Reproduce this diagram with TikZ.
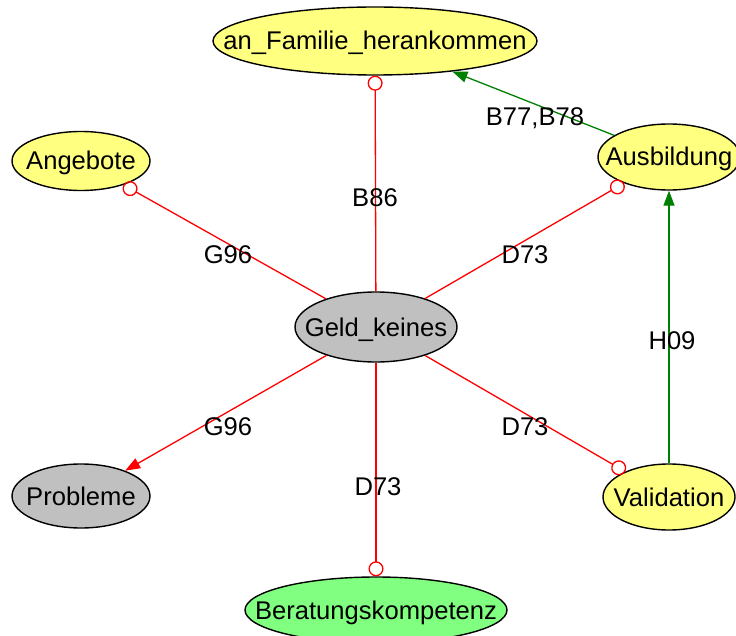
\documentclass[tikz,border=0pt]{standalone}
\usepackage{fontspec}
\setmainfont{Liberation Sans}
\usetikzlibrary{shapes.geometric,arrows.meta}
\definecolor{nodeyellow}{HTML}{FFFF80}
\definecolor{nodegray}{HTML}{C0C0C0}
\definecolor{nodegreen}{HTML}{80FF80}
\definecolor{edgegreen}{HTML}{008000}
\begin{document}
\begin{tikzpicture}[x=1pt,y=-1pt,
  font=\fontsize{25.6}{30}\selectfont,
  concept/.style={ellipse, draw=black, line width=1.4pt, inner sep=0pt,
    text height=18pt, text depth=0pt},
  elabel/.style={inner sep=0pt, text height=18pt, text depth=0pt},
  assoc/.style={draw=red, line width=1.3pt,
    -{Circle[open,length=15pt,width=15pt,line width=1.3pt]}},
  causal/.style={draw=red, line width=1.3pt, -{Triangle[length=15pt,width=11pt]}},
  support/.style={draw=edgegreen, line width=1.3pt,
    -{Triangle[length=15pt,width=11pt]}}
]
\clip (0,0) rectangle (736,636);
\fill[white] (0,0) rectangle (736,636);

% concepts
\node[concept, fill=nodeyellow, minimum width=324pt, minimum height=68pt]
  (fam) at (375,41) {\makebox[0pt]{an\_Familie\_herankommen}};
\node[concept, fill=nodeyellow, minimum width=138pt, minimum height=59pt]
  (ang) at (81,161) {\makebox[0pt]{Angebote}};
\node[concept, fill=nodeyellow, minimum width=142pt, minimum height=66pt]
  (aus) at (669,157) {\makebox[0pt]{Ausbildung}};
\node[concept, fill=nodegray, minimum width=162pt, minimum height=70pt]
  (geld) at (376,327) {\makebox[0pt]{Geld\_keines}};
\node[concept, fill=nodegray, minimum width=138pt, minimum height=64pt]
  (prob) at (81,496) {\makebox[0pt]{Probleme}};
\node[concept, fill=nodeyellow, minimum width=132pt, minimum height=66pt]
  (val) at (669,497) {\makebox[0pt]{Validation}};
\node[concept, fill=nodegreen, minimum width=262pt, minimum height=66pt]
  (ber) at (376,610) {\makebox[0pt]{Beratungskompetenz}};

% relations
\draw[assoc] (geld) -- (fam);
\draw[assoc] (geld) -- (ang);
\draw[assoc] (geld) -- (aus);
\draw[causal] (geld) -- (prob);
\draw[assoc] (geld) -- (ber);
\draw[assoc] (geld) -- (val);
\draw[support] (val) -- (aus);
\draw[support] (aus) -- (fam);

% relation labels
\node[elabel] (l1) at (375,198) {B86};
\node[elabel] (l2) at (228,255) {G96};
\node[elabel] (l3) at (525,255) {D73};
\node[elabel] (l4) at (228,426) {G96};
\node[elabel] (l5) at (525,426) {D73};
\node[elabel] (l6) at (378,486) {D73};
\node[elabel] (l7) at (672,340) {H09};
\node[elabel] (l8) at (535,117) {B77,B78};
\end{tikzpicture}
\end{document}
